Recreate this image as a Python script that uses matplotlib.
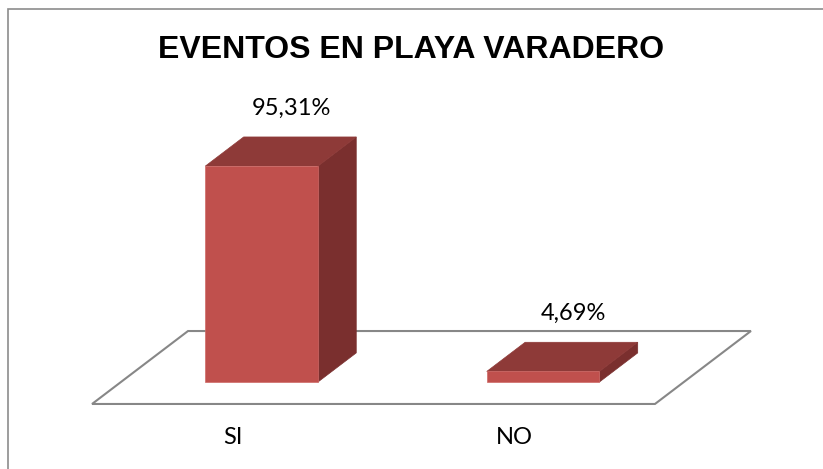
import matplotlib.pyplot as plt
from matplotlib.patches import Polygon, Rectangle

categories = ['SI', 'NO']
values = [95.31, 4.69]
value_labels = ['95,31%', '4,69%']
title = 'EVENTOS EN PLAYA VARADERO'

FRONT = '#C0504D'
TOP = '#8E3A38'
SIDE = '#7A2F2E'
FLOOR_EDGE = '#878787'

# fake 3d: depth 0..1 shifts points right and up
DEPTH_DX = 0.341
DEPTH_DY = 32.2
BAR_W = 0.4
BAR_D0, BAR_D1 = 0.3, 0.7


def proj(x, y, d):
    return (x + d * DEPTH_DX, y + d * DEPTH_DY)


fig = plt.figure(figsize=(8.23, 4.69), dpi=100)
ax = fig.add_axes([0, 0, 1, 1])
ax.set_xlim(-0.327, 2.597)
ax.set_ylim(-28.7, 178.3)
ax.axis('off')

# floor
n = len(categories)
floor = [proj(0, 0, 0), proj(n, 0, 0), proj(n, 0, 1), proj(0, 0, 1)]
ax.add_patch(Polygon(floor, closed=True, facecolor='white',
                     edgecolor=FLOOR_EDGE, lw=1.5, zorder=1))

for i, (cat, v, lab) in enumerate(zip(categories, values, value_labels)):
    x0 = i + 0.5 - BAR_W / 2
    x1 = i + 0.5 + BAR_W / 2
    front = [proj(x0, 0, BAR_D0), proj(x1, 0, BAR_D0),
             proj(x1, v, BAR_D0), proj(x0, v, BAR_D0)]
    side = [proj(x1, 0, BAR_D0), proj(x1, 0, BAR_D1),
            proj(x1, v, BAR_D1), proj(x1, v, BAR_D0)]
    top = [proj(x0, v, BAR_D0), proj(x1, v, BAR_D0),
           proj(x1, v, BAR_D1), proj(x0, v, BAR_D1)]
    ax.add_patch(Polygon(side, closed=True, facecolor=SIDE, edgecolor=SIDE, lw=0.5, zorder=2))
    ax.add_patch(Polygon(top, closed=True, facecolor=TOP, edgecolor=TOP, lw=0.5, zorder=2))
    ax.add_patch(Polygon(front, closed=True, facecolor=FRONT, edgecolor='#CF6A67', lw=0.5, zorder=3))

    lx, ly = proj(i + 0.5, v, BAR_D1)
    ax.text(lx - 0.03, ly + 12.6, lab, ha='center', va='center',
            fontsize=17, family='Lato', color='black')
    ax.text(i + 0.5, -14.6, cat, ha='center', va='center',
            fontsize=17, family='Lato', color='black')

fig.text(0.5, 1 - 50 / 469, title, ha='center', va='center',
         fontsize=23, fontweight='bold', family='Liberation Sans')

# chart area border, cut off at right and bottom
fig.patches.append(Rectangle((8 / 823, -0.1), 1.1, 1.1 - 9 / 469,
                             transform=fig.transFigure, fill=False,
                             edgecolor='#8C8C8C', lw=1.2))

fig.savefig('out.png', dpi=100)
